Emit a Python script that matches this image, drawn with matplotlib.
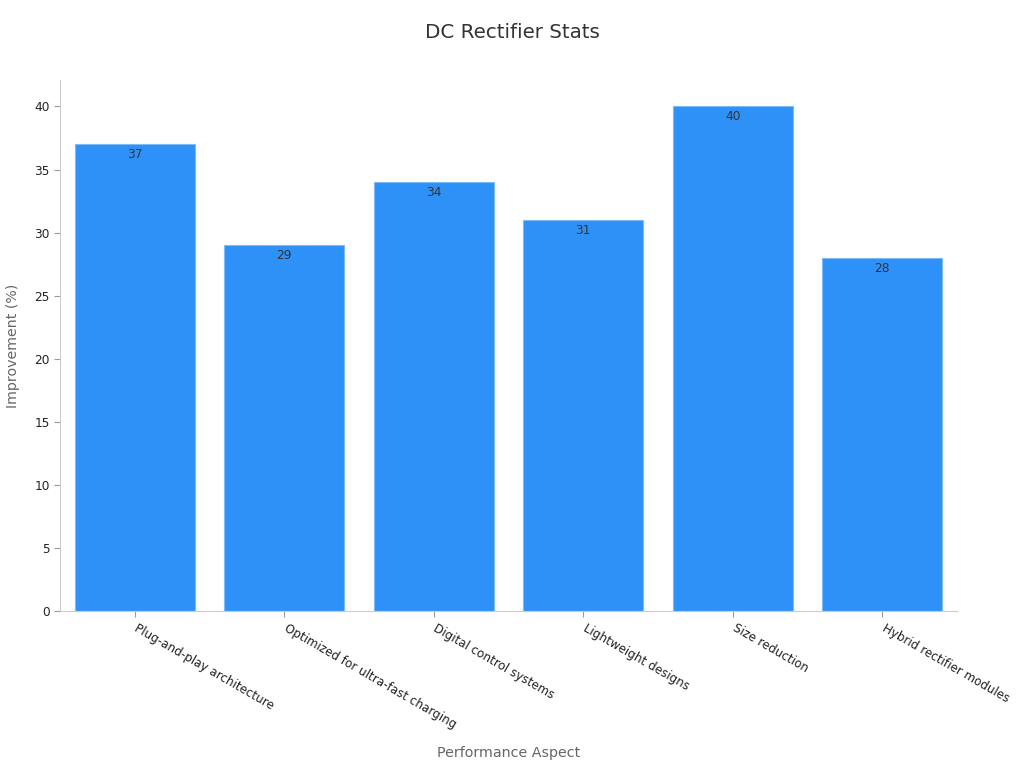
import matplotlib
matplotlib.use("Agg")
import matplotlib.pyplot as plt
import matplotlib.transforms as mtransforms

categories = ["Plug-and-play architecture", "Optimized for ultra-fast charging",
              "Digital control systems", "Lightweight designs", "Size reduction",
              "Hybrid rectifier modules"]
values = [37, 29, 34, 31, 40, 28]
yticks = [0, 5, 10, 15, 20, 25, 30, 35, 40]

plt.rcParams['font.family'] = ['DejaVu Sans']
fig = plt.figure(figsize=(10.24, 7.68), dpi=100)
ax = fig.add_axes([60/1024, 1 - 611/768, (957-60)/1024, (611-80)/768])

x = list(range(len(categories)))
bars = ax.bar(x, values, width=0.8, color="#2E91F7", edgecolor="#7DBAF9", linewidth=0.8)
for xi, v in zip(x, values):
    ax.text(xi, v - 0.3, str(v), ha="center", va="top", fontsize=8.7, color="#333333")

ax.set_xlim(-0.5, 5.5)
ax.set_ylim(0, 42.1)
ax.set_yticks(yticks)
ax.set_yticklabels([str(t) for t in yticks], fontsize=8.7, color="#222222")
ax.set_xticks(x)
ax.set_xticklabels(categories, rotation=-30, ha="left", rotation_mode="anchor",
                   fontsize=8.6, color="#222222")
ax.tick_params(axis="both", color="#999999", length=4)
offset = mtransforms.ScaledTranslation(4/100, 0, fig.dpi_scale_trans)
for lbl in ax.get_xticklabels():
    lbl.set_transform(lbl.get_transform() + offset)
for s in ["top", "right"]:
    ax.spines[s].set_visible(False)
for s in ["left", "bottom"]:
    ax.spines[s].set_color("#cccccc")

ax.set_xlabel("Performance Aspect", fontsize=10.3, color="#666666", labelpad=11)
ax.set_ylabel("Improvement (%)", fontsize=10.2, color="#666666", labelpad=10)
fig.text(0.5, 1 - 33/768, "DC Rectifier Stats", ha="center", va="center", fontsize=14.3, color="#333333")

fig.savefig("out.png", dpi=100)
